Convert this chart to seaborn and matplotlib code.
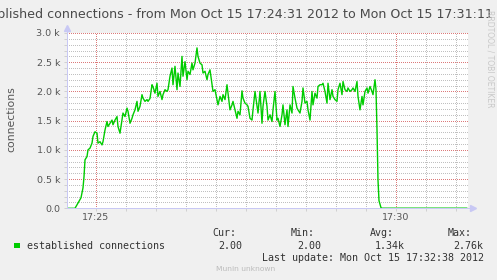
import matplotlib
matplotlib.use("Agg")
import matplotlib.pyplot as plt
from matplotlib.ticker import FixedLocator
from matplotlib.patches import Rectangle
import seaborn as sns
import pandas as pd

# ---- data: seconds since Mon Oct 15 17:24:31 2012, established connections ----
seconds = [0, 8, 11, 14, 16, 17, 18, 20, 21, 23, 25, 26, 28, 30, 31, 33, 35, 36, 38, 40,
           41, 43, 45, 46, 48, 50, 51, 53, 55, 56, 58, 60, 61, 63, 65, 66, 68, 70, 71, 73,
           75, 76, 78, 80, 81, 83, 85, 86, 88, 90, 91, 93, 95, 96, 98, 100, 101, 103, 105, 106,
           108, 110, 111, 113, 115, 116, 118, 120, 121, 123, 125, 126, 128, 130, 131, 133, 135, 136, 138, 140,
           141, 143, 145, 146, 148, 150, 151, 153, 155, 156, 158, 160, 161, 163, 165, 166, 168, 170, 171, 173,
           175, 176, 178, 180, 181, 183, 185, 186, 188, 190, 191, 193, 195, 196, 198, 200, 201, 203, 205, 206,
           208, 210, 211, 213, 215, 216, 218, 220, 221, 223, 225, 226, 228, 230, 231, 233, 235, 236, 238, 240,
           241, 243, 245, 246, 248, 250, 251, 253, 255, 256, 258, 260, 261, 263, 265, 266, 268, 270, 271, 273,
           275, 276, 278, 280, 281, 283, 285, 286, 288, 290, 291, 293, 295, 296, 298, 300, 301, 303, 305, 306,
           308, 309, 310, 311, 312, 314, 315, 400]
connections = [0, 0, 90, 180, 350, 540, 830, 885, 1000, 1030, 1115, 1230, 1310, 1285, 1115, 1140, 1085, 1140, 1340, 1485,
               1400, 1455, 1510, 1430, 1510, 1570, 1400, 1285, 1510, 1630, 1570, 1715, 1660, 1455, 1540, 1600, 1685, 1830, 1660, 1745,
               1945, 1885, 1830, 1860, 1830, 1880, 2115, 2080, 1970, 2140, 1915, 2000, 1860, 1945, 2030, 2000, 2030, 2260, 2400, 2115,
               2430, 2030, 2315, 2085, 2600, 2260, 2510, 2200, 2345, 2290, 2485, 2370, 2485, 2745, 2600, 2485, 2455, 2315, 2345, 2200,
               2290, 2370, 2115, 2000, 2030, 1860, 1770, 1915, 1830, 1945, 1860, 2115, 1970, 1685, 1770, 1830, 1685, 1540, 1660, 1600,
               2010, 1885, 1800, 1770, 1745, 1540, 1510, 1685, 2000, 1745, 1630, 2000, 1455, 1745, 2000, 1745, 1510, 1600, 1485, 1685,
               2000, 1510, 1540, 1400, 1600, 1770, 1430, 1685, 1400, 1770, 1630, 2085, 1885, 1715, 1685, 1630, 1830, 2060, 1800, 1830,
               1685, 1510, 2000, 1770, 1970, 1885, 2085, 2115, 2115, 2140, 2000, 1800, 2140, 1860, 2030, 1915, 1860, 1830, 2030, 2140,
               1945, 2170, 2030, 2000, 2060, 2000, 2030, 2060, 2000, 2170, 1915, 1685, 1915, 1770, 2000, 2060, 1970, 2085, 2000, 1945,
               2200, 2030, 1340, 480, 130, 10, 2, 2]

y_ticks = [0, 500, 1000, 1500, 2000, 2500, 3000]
y_tick_labels = ["0.0", "0.5 k", "1.0 k", "1.5 k", "2.0 k", "2.5 k", "3.0 k"]
y_minor_ticks = [v for v in range(0, 3001, 100) if v % 500]
x_ticks = [29, 329]
x_tick_labels = ["17:25", "17:30"]
x_minor_ticks = [29 + 30 * k for k in range(13) if k % 10]

title = "established connections - from Mon Oct 15 17:24:31 2012 to Mon Oct 15 17:31:11 2012"
y_label = "connections"
legend_label = "established connections"
stat_names = ["Cur:", "Min:", "Avg:", "Max:"]
stat_values = ["2.00", "2.00", "1.34k", "2.76k"]
last_update = "Last update: Mon Oct 15 17:32:38 2012"
footer = "Munin unknown"
watermark = "RRDTOOL / TOBI OETIKER"

# ---- style ----
sns.set_theme(style="white")
plt.rcParams["font.family"] = ["DejaVu Sans"]
plt.rcParams["lines.antialiased"] = False  # crisp dotted grid like rrdtool

W, H = 497, 280
BG = "#F0F0F0"
GREEN = "#00CC00"
AXIS = "#c8c8f4"

fig = plt.figure(figsize=(W / 100, H / 100), dpi=100, facecolor=BG)
ax = fig.add_axes([67 / W, 1 - 208.3 / H, 401 / W, 175.3 / H])
ax.set_facecolor("white")

df = pd.DataFrame({"t": seconds, "v": connections})
sns.lineplot(data=df, x="t", y="v", ax=ax, color=GREEN, linewidth=1.0, zorder=3, antialiased=True)

ax.set_xlim(0, 401)
ax.set_ylim(0, 3000)
ax.yaxis.set_major_locator(FixedLocator(y_ticks))
ax.set_yticklabels(y_tick_labels)
ax.yaxis.set_minor_locator(FixedLocator(y_minor_ticks))
ax.xaxis.set_major_locator(FixedLocator(x_ticks))
ax.set_xticklabels(x_tick_labels)
ax.xaxis.set_minor_locator(FixedLocator(x_minor_ticks))
ax.set_xlabel("")
ax.set_ylabel(y_label, fontsize=7.8, color="#555555")
ax.yaxis.set_label_coords((11 - 67) / 401, (208.3 - 119) / 175.3)
ax.yaxis.label.set_va("center")

ax.grid(which="minor", color="#c0c0c0", linestyle=(0, (1, 2)), linewidth=0.72)
ax.grid(which="major", color="#dc7a7a", linestyle=(0, (1, 2)), linewidth=0.72)
ax.tick_params(which="both", left=True, bottom=True, length=2, width=0.72, color="#d0d0d0",
               labelsize=6.8, labelcolor="#555555")
ax.tick_params(axis="y", pad=3)
ax.tick_params(axis="x", pad=1.5)
for s in ax.spines.values():
    s.set_visible(False)

# axis lines with arrows
ax.plot([0, 0], [0, 1.03], transform=ax.transAxes, color=AXIS, lw=0.72, clip_on=False, zorder=4)
ax.plot([0], [1.03], marker="^", ms=4, color=AXIS, mec=AXIS, transform=ax.transAxes, clip_on=False,
        zorder=4, antialiased=True)
ax.plot([0, 1.012], [0, 0], transform=ax.transAxes, color=AXIS, lw=0.72, clip_on=False, zorder=2)
ax.plot([1.012], [0], marker=">", ms=4, color=AXIS, mec=AXIS, transform=ax.transAxes, clip_on=False,
        zorder=4, antialiased=True)
ax.set_xlim(0, 401)
ax.set_ylim(0, 3000)

def fx(px):
    return px / W

def fy(py):
    return 1 - py / H

fig.text(fx(249), fy(18.3), title, ha="center", va="baseline", fontsize=9.1, color="#4a4a4a")
fig.text(fx(490), fy(10), watermark, rotation=270, ha="center", va="top", fontsize=5.5, color="#c8c8c8")

mono = "DejaVu Sans Mono"
fig.patches.append(Rectangle((fx(14), fy(248.3)), 5.5 / W, 5.6 / H, transform=fig.transFigure,
                             facecolor=GREEN, edgecolor="none"))
fig.text(fx(27), fy(245.7), legend_label, ha="left", va="center", family=mono, fontsize=7.2, color="#333333")

name_x = [212, 291, 370, 448]
value_x = [218, 297, 375, 453]
for nx, name in zip(name_x, stat_names):
    fig.text(fx(nx), fy(233.3), name, ha="left", va="center", family=mono, fontsize=7.2, color="#333333")
for vx, val in zip(value_x, stat_values):
    fig.text(fx(vx), fy(245.7), val, ha="left", va="center", family=mono, fontsize=7.2, color="#333333")
fig.text(fx(262), fy(257.7), last_update, ha="left", va="center", family=mono, fontsize=7.2, color="#333333")
fig.text(fx(216), fy(269), footer, ha="left", va="center", fontsize=5.4, color="#bbbbbb")

fig.savefig("out.png", dpi=100, facecolor=BG)
